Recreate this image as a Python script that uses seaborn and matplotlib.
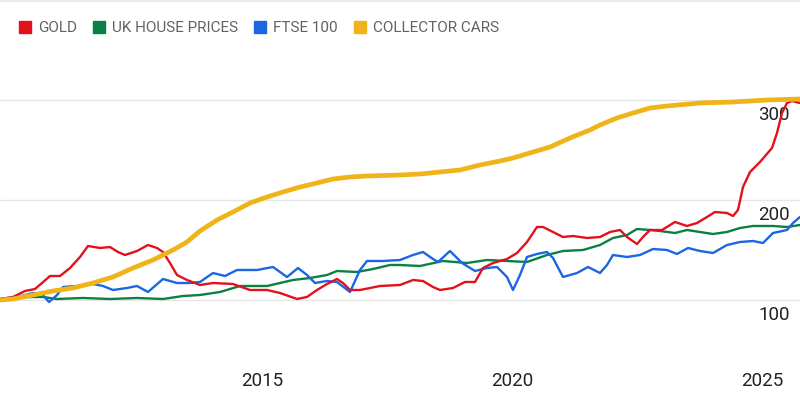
import matplotlib
matplotlib.use("Agg")
import matplotlib.pyplot as plt
import matplotlib.transforms as mtrans
from matplotlib.lines import Line2D
import seaborn as sns
import pandas as pd

# ---- data (index, start = 100) ----
gold_x = [2009.76, 2010.02, 2010.26, 2010.46, 2010.60, 2010.76, 2010.96, 2011.16, 2011.36, 2011.52,
          2011.76, 2011.96, 2012.12, 2012.26, 2012.50, 2012.72, 2012.90, 2013.02, 2013.16, 2013.30,
          2013.50, 2013.76, 2014.02, 2014.42, 2014.76, 2015.10, 2015.36, 2015.70, 2015.90, 2016.10,
          2016.30, 2016.50, 2016.62, 2016.76, 2016.96, 2017.36, 2017.76, 2018.02, 2018.22, 2018.42,
          2018.56, 2018.82, 2019.06, 2019.26, 2019.42, 2019.62, 2019.90, 2020.10, 2020.30, 2020.50,
          2020.62, 2020.82, 2021.02, 2021.22, 2021.50, 2021.76, 2021.96, 2022.16, 2022.30, 2022.50,
          2022.62, 2022.76, 2023.00, 2023.26, 2023.50, 2023.70, 2023.90, 2024.06, 2024.30, 2024.42,
          2024.52, 2024.62, 2024.76, 2024.96, 2025.20, 2025.30, 2025.40, 2025.50, 2025.60, 2025.76]
gold_y = [101, 103, 109, 111, 117, 124, 124, 132, 143, 154,
          152, 153, 148, 145, 149, 155, 152, 148, 137, 125,
          120, 115, 117, 116, 110, 110, 107, 101, 103, 110,
          116, 121, 117, 110, 110, 114, 115, 120, 119, 113,
          110, 112, 118, 118, 132, 137, 141, 147, 158, 173,
          173, 168, 163, 164, 162, 163, 168, 170, 163, 156,
          163, 170, 170, 178, 174, 177, 183, 188, 187, 184,
          190, 213, 228, 238, 252, 267, 287, 297, 299, 297]

house_x = [2009.76, 2010.16, 2010.62, 2010.90, 2011.42, 2011.96, 2012.50, 2013.02, 2013.42, 2013.76,
           2014.16, 2014.56, 2015.10, 2015.36, 2015.62, 2015.96, 2016.30, 2016.50, 2016.90, 2017.22,
           2017.56, 2017.76, 2018.16, 2018.62, 2019.10, 2019.50, 2019.90, 2020.30, 2020.70, 2021.02,
           2021.42, 2021.76, 2022.02, 2022.30, 2022.50, 2022.76, 2022.96, 2023.26, 2023.50, 2023.76,
           2024.02, 2024.30, 2024.56, 2024.82, 2025.22, 2025.50, 2025.76]
house_y = [101, 103, 103, 101, 102, 101, 102, 101, 104, 105,
           108, 114, 114, 117, 120, 122, 125, 129, 128, 131,
           135, 135, 134, 139, 137, 140, 139, 138, 145, 149,
           150, 155, 162, 165, 171, 170, 169, 167, 170, 168,
           166, 168, 172, 174, 174, 173, 175]

ftse_x = [2009.76, 2010.10, 2010.42, 2010.60, 2010.74, 2010.90, 2011.02, 2011.30, 2011.62, 2011.82,
          2012.02, 2012.30, 2012.50, 2012.72, 2013.02, 2013.30, 2013.56, 2013.76, 2014.02, 2014.26,
          2014.50, 2014.90, 2015.22, 2015.50, 2015.72, 2015.90, 2016.06, 2016.30, 2016.50, 2016.76,
          2016.96, 2017.10, 2017.42, 2017.76, 2018.02, 2018.22, 2018.42, 2018.52, 2018.76, 2019.00,
          2019.26, 2019.50, 2019.70, 2019.90, 2020.02, 2020.16, 2020.30, 2020.50, 2020.70, 2020.82,
          2021.02, 2021.30, 2021.52, 2021.76, 2021.90, 2022.02, 2022.30, 2022.56, 2022.82, 2023.10,
          2023.30, 2023.52, 2023.76, 2024.02, 2024.30, 2024.56, 2024.82, 2025.02, 2025.22, 2025.50,
          2025.62, 2025.76]
ftse_y = [101, 103, 107, 106, 98, 105, 113, 114, 116, 114,
          110, 112, 114, 108, 121, 117, 117, 118, 127, 124,
          130, 130, 133, 123, 132, 125, 117, 119, 118, 108,
          130, 139, 139, 140, 145, 148, 141, 138, 149, 137,
          129, 132, 133, 123, 110, 125, 143, 146, 148, 142,
          123, 127, 133, 127, 135, 145, 143, 145, 151, 150,
          146, 152, 149, 147, 155, 158, 159, 157, 167, 170,
          177, 183]

cars_x = [2009.76, 2010.02, 2010.42, 2010.82, 2011.22, 2011.62, 2012.02, 2012.42, 2012.82, 2013.22,
          2013.50, 2013.76, 2014.10, 2014.42, 2014.76, 2015.10, 2015.42, 2015.76, 2016.10, 2016.42,
          2016.76, 2017.10, 2017.76, 2018.16, 2018.56, 2018.96, 2019.36, 2019.76, 2020.02, 2020.42,
          2020.76, 2021.16, 2021.56, 2021.76, 2022.10, 2022.42, 2022.76, 2023.10, 2023.76, 2024.42,
          2025.10, 2025.76]
cars_y = [100, 101, 105, 109, 112, 117, 123, 132, 140, 150,
          158, 169, 180, 188, 197, 203, 208, 213, 217, 221,
          223, 224, 225, 226, 228, 230, 235, 239, 242, 248,
          253, 262, 270, 275, 282, 287, 292, 294, 297, 298,
          300, 301]

series_names = ["GOLD", "UK HOUSE PRICES", "FTSE 100", "COLLECTOR CARS"]
series_colors = ["#e2111c", "#0b8043", "#1a66e3", "#f0b41a"]
x_ticks = [2015, 2020, 2025]
y_ticks = [100, 200, 300]

# ---- figure ----
sns.set_theme(style="white")
plt.rcParams["font.family"] = ["Roboto", "DejaVu Sans"]

fig = plt.figure(figsize=(8, 4), dpi=100)
# axes spans pixel rows 50..360 -> values 350..40
ax = fig.add_axes([0, 40 / 400, 1, 310 / 400])
ax.set_xlim(2009.76, 2025.76)
ax.set_ylim(40, 350)

frames = {
    "GOLD": (gold_x, gold_y),
    "UK HOUSE PRICES": (house_x, house_y),
    "FTSE 100": (ftse_x, ftse_y),
    "COLLECTOR CARS": (cars_x, cars_y),
}
widths = {"GOLD": 1.7, "UK HOUSE PRICES": 1.7, "FTSE 100": 1.7, "COLLECTOR CARS": 3.4}
zorders = {"GOLD": 3, "UK HOUSE PRICES": 2, "FTSE 100": 2.5, "COLLECTOR CARS": 4}
for name, color in zip(series_names, series_colors):
    xs, ys = frames[name]
    df = pd.DataFrame({"year": xs, "value": ys})
    sns.lineplot(data=df, x="year", y="value", ax=ax, color=color,
                 linewidth=widths[name], zorder=zorders[name], legend=False,
                 solid_joinstyle="round", solid_capstyle="round")

ax.set_xlabel("")
ax.set_ylabel("")
for s in ax.spines.values():
    s.set_visible(False)

ax.set_xticks(x_ticks)
ax.set_xticklabels([str(t) for t in x_ticks])
ax.tick_params(axis="x", length=0, pad=9, labelsize=13.5, labelcolor="#222222")

ax.set_yticks(y_ticks)
ax.yaxis.set_ticks_position("right")
ax.tick_params(axis="y", length=0, pad=-7.5, labelsize=13.5, labelcolor="#222222")
ax.set_yticklabels([str(t) for t in y_ticks])
offset = mtrans.ScaledTranslation(0, -4 / 72, fig.dpi_scale_trans)
for lab in ax.get_yticklabels():
    lab.set_horizontalalignment("right")
    lab.set_verticalalignment("top")
    lab.set_transform(lab.get_transform() + offset)

ax.grid(axis="y", color="#e6e6e6", linewidth=1)
ax.grid(axis="x", visible=False)
ax.set_axisbelow(True)

# top border line
fig.add_artist(Line2D([0, 1], [0.9975, 0.9975], transform=fig.transFigure,
                      color="#e6e6e6", linewidth=1.2))

handles = [Line2D([0], [0], marker="s", linestyle="", markersize=8.6,
                  markerfacecolor=c, markeredgecolor=c) for c in series_colors]
leg = fig.legend(handles, series_names, loc="center left", bbox_to_anchor=(0.0161, 0.929),
                 ncol=4, frameon=False, fontsize=11, handlelength=0.79,
                 handletextpad=0.46, columnspacing=1.05, borderaxespad=0)
for t in leg.get_texts():
    t.set_color("#5f6368")

fig.savefig("out.png", dpi=100)
